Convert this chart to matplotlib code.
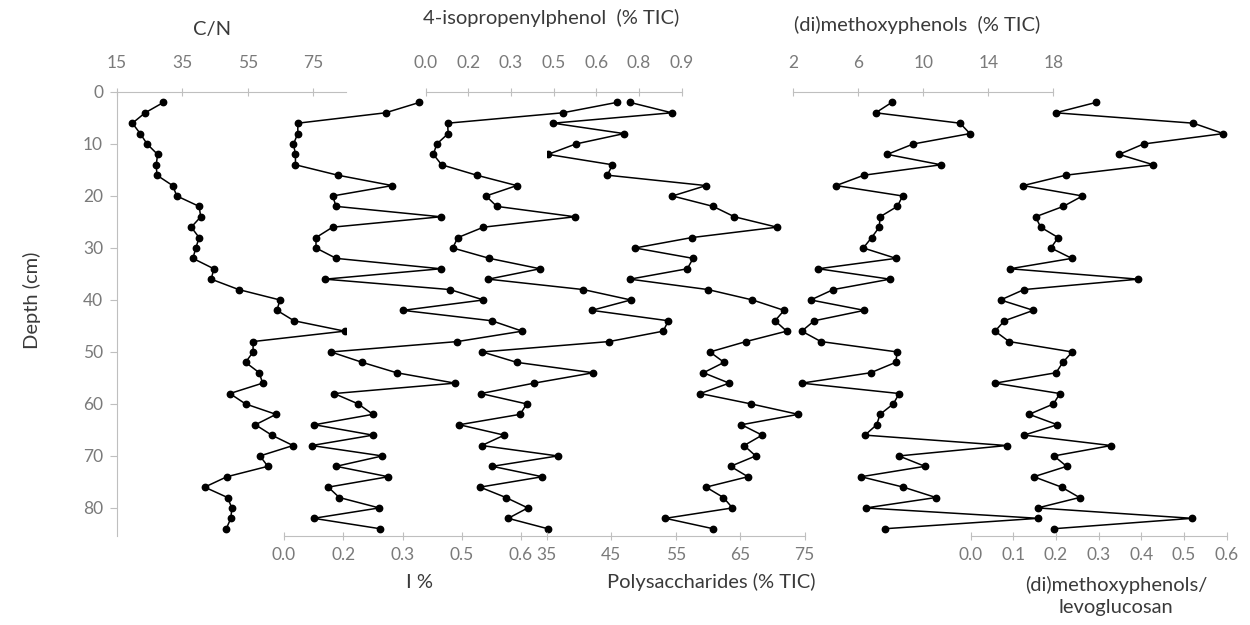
import matplotlib
matplotlib.use("Agg")
import matplotlib.pyplot as plt

plt.rcParams['font.family'] = ['Lato', 'DejaVu Sans']

W, H = 1250, 625

depth = [2, 4, 6, 8, 10, 12, 14, 16, 18, 20, 22, 24, 26, 28, 30, 32, 34, 36, 38, 40, 42,
         44, 46, 48, 50, 52, 54, 56, 58, 60, 62, 64, 66, 68, 70, 72, 74, 76, 78, 80, 82, 84]

cn = [29.2, 23.6, 19.7, 22.1, 24.2, 27.4, 27.0, 27.2, 32.0, 33.3, 40.1, 40.6, 37.7, 40.1,
      39.1, 38.2, 44.6, 43.8, 52.2, 64.8, 63.9, 69.1, 84.6, 56.6, 56.6, 54.3, 58.5, 59.5,
      49.5, 54.3, 63.6, 57.3, 62.3, 68.8, 58.7, 61.1, 48.6, 41.8, 48.8, 50.1, 49.8, 48.4]

i_pct = [0.343, 0.257, 0.035, 0.035, 0.024, 0.029, 0.029, 0.136, 0.274, 0.123, 0.132,
         0.397, 0.123, 0.081, 0.081, 0.132, 0.397, 0.104, 0.420, 0.505, 0.301, 0.526,
         0.603, 0.439, 0.119, 0.198, 0.285, 0.433, 0.127, 0.188, 0.225, 0.077, 0.225,
         0.070, 0.249, 0.132, 0.264, 0.112, 0.140, 0.241, 0.075, 0.243]

isoprop = [0.672, 0.482, 0.077, 0.079, 0.039, 0.027, 0.056, 0.179, 0.320, 0.212, 0.250,
           0.525, 0.203, 0.113, 0.095, 0.224, 0.402, 0.220, 0.554, 0.721, 0.584, 0.853,
           0.835, 0.645, 0.199, 0.320, 0.589, 0.381, 0.194, 0.355, 0.332, 0.118, 0.276,
           0.197, 0.464, 0.234, 0.410, 0.191, 0.282, 0.359, 0.290, 0.429]

polysacch = [47.9, 54.4, 36.0, 47.0, 39.5, 35.2, 45.2, 44.4, 59.7, 54.5, 60.8, 64.1, 70.7,
             57.5, 48.7, 57.7, 56.8, 47.9, 60.0, 66.9, 71.8, 70.4, 72.2, 65.9, 60.3, 62.5,
             59.3, 63.3, 58.8, 66.7, 74.0, 65.2, 68.4, 65.6, 67.4, 63.5, 66.2, 59.7, 62.4,
             63.8, 53.4, 60.8]

methoxy = [8.06, 7.07, 12.26, 12.87, 9.38, 7.78, 11.09, 6.35, 4.63, 8.73, 8.40, 7.34, 7.29,
           6.82, 6.31, 8.32, 3.54, 7.95, 4.46, 3.07, 6.37, 3.29, 2.52, 3.70, 8.40, 8.30,
           6.76, 2.52, 8.52, 8.15, 7.34, 7.13, 6.41, 15.13, 8.50, 10.10, 6.17, 8.77, 10.78,
           6.47, 17.08, 7.64]

ratio = [0.294, 0.199, 0.522, 0.592, 0.405, 0.348, 0.428, 0.223, 0.123, 0.262, 0.217,
         0.152, 0.164, 0.205, 0.188, 0.237, 0.092, 0.393, 0.125, 0.070, 0.147, 0.079,
         0.057, 0.090, 0.238, 0.216, 0.200, 0.057, 0.209, 0.194, 0.137, 0.203, 0.125,
         0.329, 0.195, 0.225, 0.148, 0.213, 0.255, 0.157, 0.519, 0.195]

cn_ticks = [15, 35, 55, 75]
i_ticks = [0, 0.15, 0.3, 0.45, 0.6]
i_labels = ['0.0', '0.2', '0.3', '0.5', '0.6']
iso_ticks = [0, 0.15, 0.3, 0.45, 0.6, 0.75, 0.9]
iso_labels = ['0.0', '0.2', '0.3', '0.5', '0.6', '0.8', '0.9']
poly_ticks = [35, 45, 55, 65, 75]
meth_ticks = [2, 6, 10, 14, 18]
ratio_ticks = [0, 0.1, 0.2, 0.3, 0.4, 0.5, 0.6]
ratio_labels = ['0.0', '0.1', '0.2', '0.3', '0.4', '0.5', '0.6']
depth_ticks = [0, 10, 20, 30, 40, 50, 60, 70, 80]

AX_C = '#bfbfbf'
TICK_C = '#7a7a7a'
TXT_C = '#3a3a3a'
y_top, y_bot = 92, 536
dmax = 85.4

fig = plt.figure(figsize=(W / 100, H / 100), dpi=100)


def panel(x0, x1, xlim, side, vals, ticks, labels=None):
    ax = fig.add_axes([x0 / W, 1 - y_bot / H, (x1 - x0) / W, (y_bot - y_top) / H])
    ax.patch.set_alpha(0)
    ax.plot(vals, depth, color='black', lw=1.1, marker='o', ms=4.6)
    ax.set_xlim(*xlim)
    ax.set_ylim(dmax, 0)
    for s in ax.spines.values():
        s.set_visible(False)
    ax.spines[side].set_visible(True)
    ax.spines[side].set_color(AX_C)
    ax.set_xticks(ticks)
    if labels is not None:
        ax.set_xticklabels(labels)
    if side == 'top':
        ax.xaxis.tick_top()
        pad = 12
    else:
        pad = 5
    ax.tick_params(axis='x', direction='inout', length=6, color=AX_C,
                   labelcolor=TICK_C, labelsize=12.5, pad=pad)
    ax.set_yticks([])
    return ax


ax0 = panel(117, 346, (15, 85), 'top', cn, cn_ticks)
ax0.spines['left'].set_visible(True)
ax0.spines['left'].set_color(AX_C)
ax0.set_yticks(depth_ticks)
ax0.tick_params(axis='y', direction='out', length=5, color=AX_C,
                labelcolor=TICK_C, labelsize=12.5, pad=5)

panel(284, 546.7, (0, 0.665), 'bottom', i_pct, i_ticks, i_labels)
panel(425.7, 681.7, (0, 0.9), 'top', isoprop, iso_ticks, iso_labels)
panel(546.7, 804.7, (35, 75), 'bottom', polysacch, poly_ticks)
panel(793.3, 1053.3, (2, 18), 'top', methoxy, meth_ticks)
panel(970.7, 1226.7, (0, 0.6), 'bottom', ratio, ratio_ticks, ratio_labels)


def ftext(x, y, s, **kw):
    fig.text(x / W, 1 - y / H, s, color=TXT_C, fontsize=14.5,
             ha='center', va='center', **kw)


ftext(212, 30, 'C/N')
ftext(551, 18, '4-isopropenylphenol  (% TIC)')
ftext(917, 25, '(di)methoxyphenols  (% TIC)')
ftext(420, 582, 'I %')
ftext(711, 582, 'Polysaccharides (% TIC)')
ftext(1116, 596, '(di)methoxyphenols/\nlevoglucosan', linespacing=1.35)
ftext(32, 300, 'Depth (cm)', rotation=90)

fig.savefig('out.png', dpi=100)
